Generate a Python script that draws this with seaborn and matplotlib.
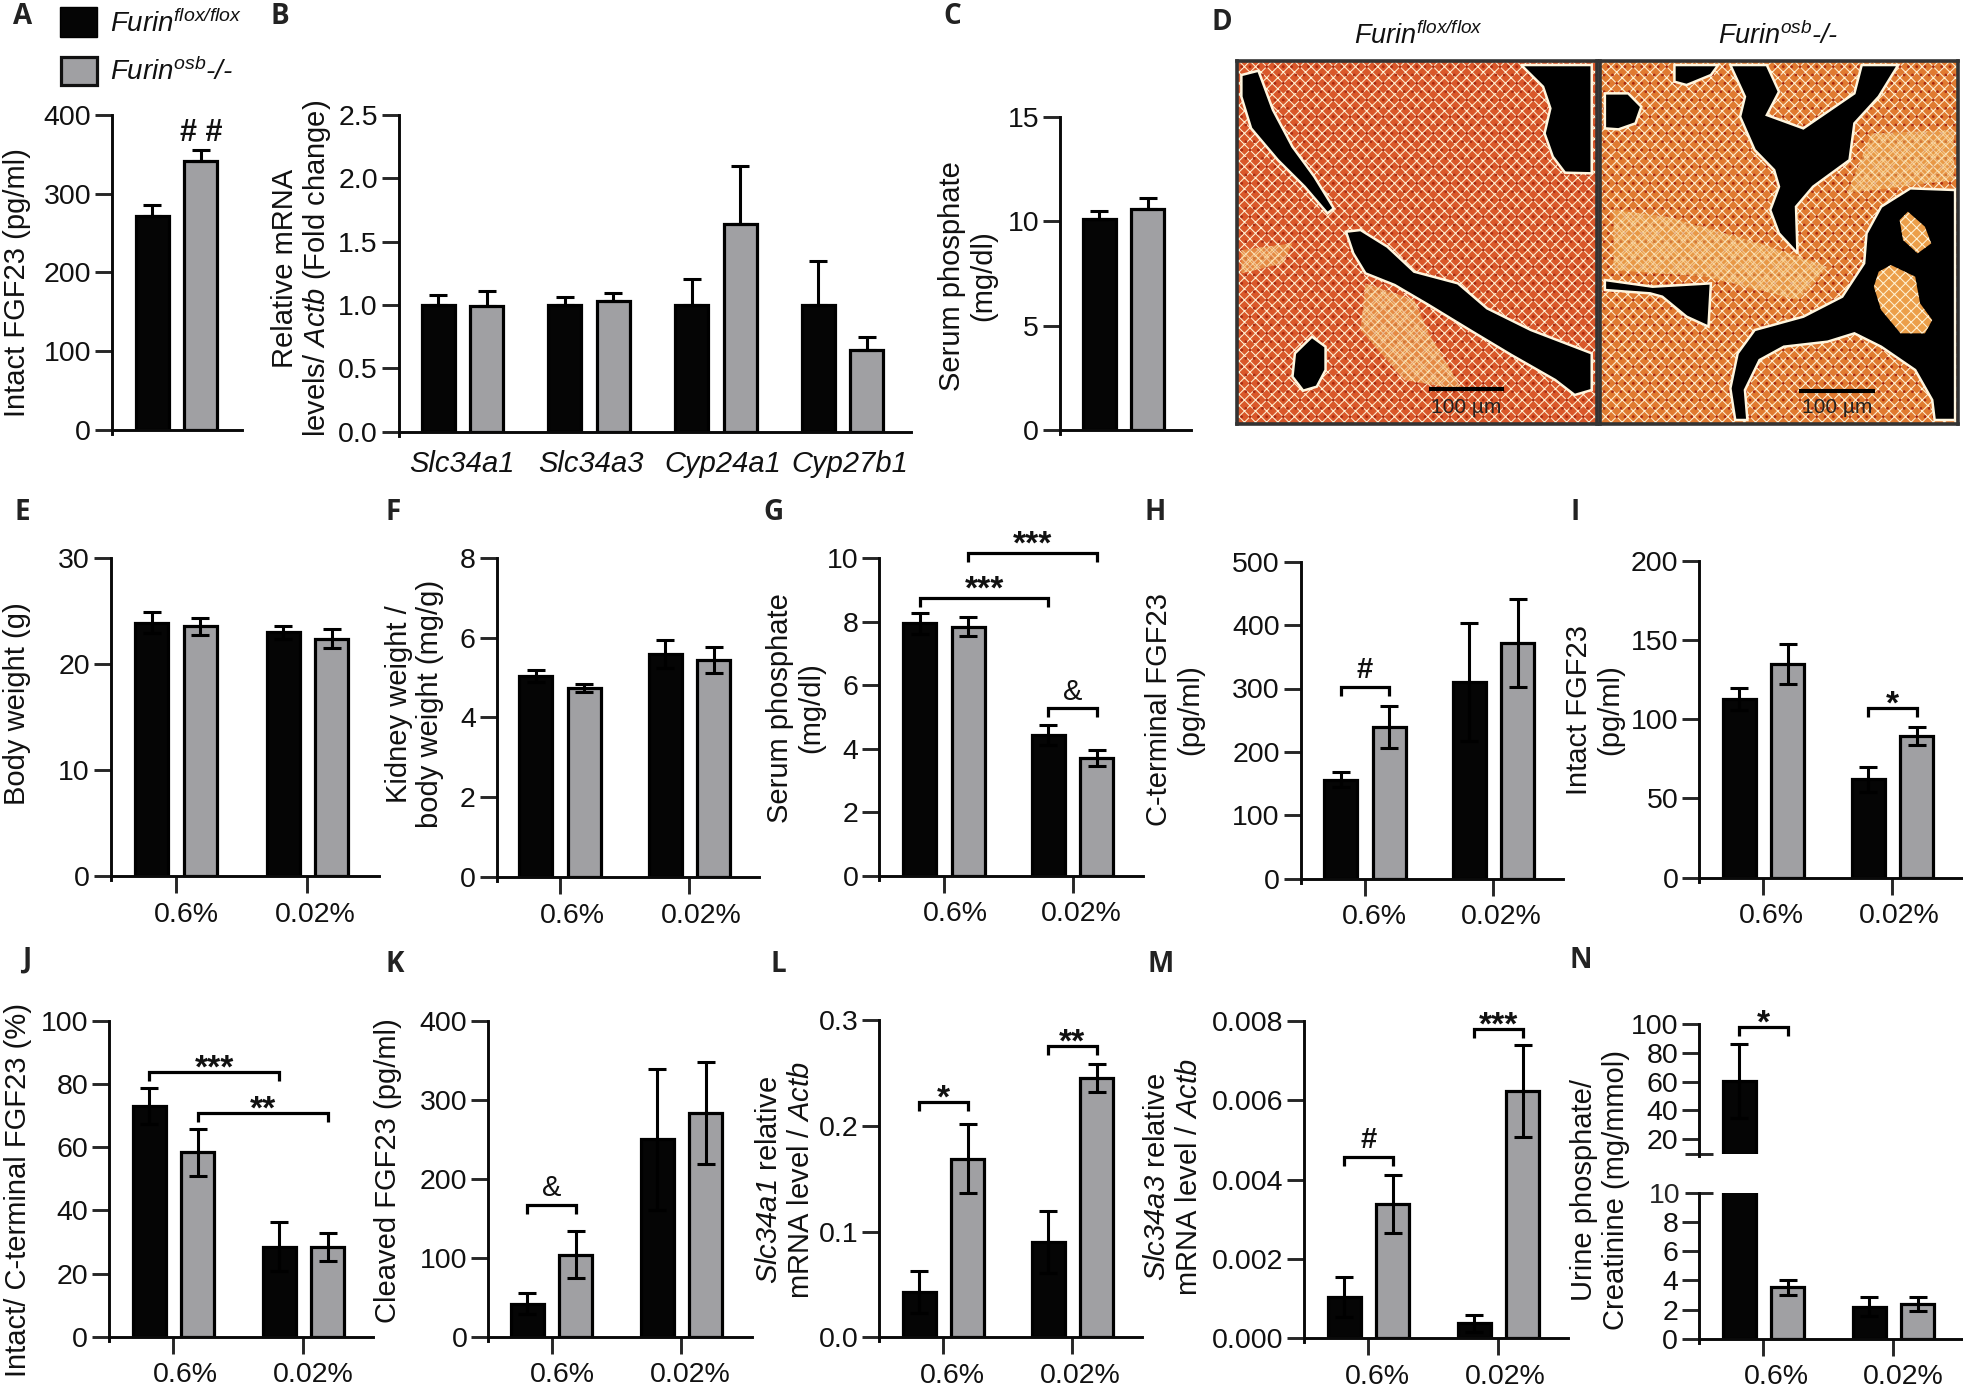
import pandas as pd
import matplotlib.pyplot as plt
import seaborn as sns
from matplotlib.patches import Polygon, Rectangle
from matplotlib.transforms import ScaledTranslation

diets = ["0.6%", "0.02%"]
genes = ["Slc34a1", "Slc34a3", "Cyp24a1", "Cyp27b1"]
single = ["all"]

# bar heights and top of the error bar
a_flox, a_flox_hi = [271], [286]
a_ko, a_ko_hi = [341], [355.5]
b_flox, b_flox_hi = [1.0, 1.0, 1.0, 1.0], [1.08, 1.066, 1.205, 1.345]
b_ko, b_ko_hi = [0.99, 1.034, 1.64, 0.645], [1.108, 1.095, 2.1, 0.75]
c_flox, c_flox_hi = [10.1], [10.5]
c_ko, c_ko_hi = [10.6], [11.1]
e_flox, e_flox_hi = [23.9, 23.0], [24.9, 23.6]
e_ko, e_ko_hi = [23.6, 22.4], [24.4, 23.3]
f_flox, f_flox_hi = [5.03, 5.58], [5.18, 5.93]
f_ko, f_ko_hi = [4.73, 5.44], [4.83, 5.77]
g_flox, g_flox_hi = [7.95, 4.43], [8.27, 4.75]
g_ko, g_ko_hi = [7.85, 3.71], [8.14, 3.96]
h_flox, h_flox_hi = [156, 310], [168, 403]
h_ko, h_ko_hi = [239, 372], [272, 441]
i_flox, i_flox_hi = [113, 62], [120, 70]
i_ko, i_ko_hi = [135, 89.5], [147.5, 95]
j_flox, j_flox_hi = [73, 28.5], [78.6, 36.2]
j_ko, j_ko_hi = [58.3, 28.4], [65.7, 32.7]
k_flox, k_flox_hi = [42, 250], [55, 339]
k_ko, k_ko_hi = [104, 283.5], [134, 348]
l_flox, l_flox_hi = [0.043, 0.09], [0.063, 0.119]
l_ko, l_ko_hi = [0.169, 0.245], [0.202, 0.258]
m_flox, m_flox_hi = [0.00104, 0.00038], [0.00154, 0.0006]
m_ko, m_ko_hi = [0.00338, 0.00624], [0.00411, 0.0074]
n_flox, n_flox_hi = [60.5, 2.19], [86, 2.83]
n_ko, n_ko_hi = [3.52, 2.37], [4.02, 2.83]

a_yticks = [0, 100, 200, 300, 400]
b_yticks = ["0.0", "0.5", "1.0", "1.5", "2.0", "2.5"]
c_yticks = [0, 5, 10, 15]
e_yticks = [0, 10, 20, 30]
f_yticks = [0, 2, 4, 6, 8]
g_yticks = [0, 2, 4, 6, 8, 10]
h_yticks = [0, 100, 200, 300, 400, 500]
i_yticks = [0, 50, 100, 150, 200]
j_yticks = [0, 20, 40, 60, 80, 100]
k_yticks = [0, 100, 200, 300, 400]
l_yticks = ["0.0", "0.1", "0.2", "0.3"]
m_yticks = ["0.000", "0.002", "0.004", "0.006", "0.008"]
n_low_yticks = [0, 2, 4, 6, 8]
n_high_yticks = [20, 40, 60, 80, 100]

# (group, hue, group, hue, height, text)
g_brackets = [(0, 0, 1, 0, 8.74, "***"), (0, 1, 1, 1, 10.16, "***"), (1, 0, 1, 1, 5.27, "&")]
h_brackets = [(0, 0, 0, 1, 303, "#")]
i_brackets = [(1, 0, 1, 1, 107, "*")]
j_brackets = [(0, 0, 1, 0, 83.7, "***"), (0, 1, 1, 1, 70.9, "**")]
k_brackets = [(0, 0, 0, 1, 167, "&")]
l_brackets = [(0, 0, 0, 1, 0.222, "*"), (1, 0, 1, 1, 0.275, "**")]
m_brackets = [(0, 0, 0, 1, 0.00458, "#"), (1, 0, 1, 1, 0.0078, "***")]
n_brackets = [(0, 0, 0, 1, 97.7, "*")]

d1_bone = [
    [(85, 225), (120, 212), (150, 330), (190, 440), (235, 530), (275, 625), (262, 640),
     (215, 560), (160, 480), (105, 385), (85, 290)],
    [(300, 695), (330, 690), (385, 740), (440, 815), (530, 850), (590, 925), (680, 990),
     (805, 1060), (805, 1170), (770, 1185), (730, 1140), (640, 1065), (560, 995),
     (470, 915), (400, 855), (340, 820), (315, 760)],
    [(660, 195), (805, 195), (805, 520), (750, 518), (725, 470), (708, 400), (720, 325), (705, 260)],
    [(230, 1010), (258, 1040), (258, 1110), (240, 1160), (212, 1172), (190, 1130), (195, 1060)],
]
d1_pale = [
    [(340, 850), (440, 900), (470, 1000), (540, 1170), (420, 1140), (330, 990)],
    [(85, 750), (190, 730), (170, 790), (85, 820)],
]
d2_bone = [
    [(975, 195), (1065, 195), (1050, 225), (1000, 255), (975, 245)],
    [(832, 280), (880, 280), (907, 320), (895, 370), (860, 388), (832, 385)],
    [(1090, 195), (1165, 195), (1190, 275), (1165, 345), (1240, 385), (1345, 280), (1360, 195),
     (1435, 195), (1395, 290), (1345, 370), (1335, 480), (1260, 560), (1225, 620), (1228, 760),
     (1190, 700), (1172, 630), (1190, 560), (1180, 510), (1140, 450), (1110, 350), (1120, 290)],
    [(832, 840), (930, 860), (1050, 850), (1045, 980), (1000, 950), (950, 890), (925, 880), (832, 870)],
    [(1552, 570), (1460, 565), (1400, 620), (1370, 700), (1365, 790), (1320, 890), (1240, 950),
     (1140, 990), (1105, 1060), (1090, 1165), (1100, 1260), (1125, 1260), (1120, 1170), (1150, 1080),
     (1200, 1040), (1290, 1025), (1345, 1000), (1400, 1040), (1470, 1110), (1505, 1200), (1510, 1260),
     (1552, 1260)],
]
d2_island = [
    [(1455, 635), (1490, 680), (1503, 730), (1475, 760), (1445, 720), (1438, 660)],
    [(1420, 795), (1470, 830), (1480, 910), (1505, 960), (1490, 1000), (1440, 1000), (1400, 930),
     (1385, 860), (1395, 815)],
]
d2_pale = [
    [(850, 630), (960, 650), (1150, 730), (1290, 800), (1230, 900), (1040, 830), (850, 810)],
    [(1380, 400), (1550, 390), (1550, 540), (1330, 580)],
]

sns.set_theme(style="ticks")
plt.rcParams["font.family"] = ["Liberation Sans", "DejaVu Sans"]
plt.rcParams["mathtext.fontset"] = "custom"
plt.rcParams["mathtext.rm"] = "Liberation Sans:italic"
plt.rcParams["mathtext.it"] = "Liberation Sans:italic"
plt.rcParams["mathtext.default"] = "rm"
plt.rcParams["hatch.linewidth"] = 0.75
plt.rcParams["text.color"] = "#111111"

W, H = 1963, 1392
fig = plt.figure(figsize=(W / 100, H / 100), dpi=100, facecolor="white")

FLOX = "#050505"
KO = "#a0a0a3"
TICK_SIZE = 20.5
LABEL_SIZE = 21
PITCH = 48.5
BAR_PX = 33


def px_axes(left, right, top, bottom):
    return fig.add_axes([left / W, 1 - bottom / H, (right - left) / W, (bottom - top) / H])


def draw_bars(ax, cats, flox, flox_hi, ko, ko_hi, spacing, lower=True):
    width = 2 * PITCH / spacing
    df = pd.DataFrame({"cat": cats * 2,
                       "geno": ["flox"] * len(cats) + ["ko"] * len(cats),
                       "value": flox + ko})
    sns.barplot(data=df, x="cat", y="value", hue="geno", order=cats, hue_order=["flox", "ko"],
                palette={"flox": FLOX, "ko": KO}, width=width, gap=1 - BAR_PX / PITCH,
                errorbar=None, saturation=1, edgecolor="black", linewidth=2.3,
                legend=False, ax=ax)
    for hue, (means, highs) in enumerate([(flox, flox_hi), (ko, ko_hi)]):
        xs = [i + (hue - 0.5) * width / 2 for i in range(len(cats))]
        up = [h - m for h, m in zip(highs, means)]
        down = up if lower else [0] * len(up)
        ax.errorbar(xs, means, yerr=[down, up], fmt="none", ecolor="black",
                    elinewidth=2.2, capsize=6.5, capthick=2.2, zorder=5)
    return width


def style_axes(ax, ymax, yticks):
    sns.despine(ax=ax)
    ax.set_xlabel("")
    ax.set_ylabel("")
    for side in ["left", "bottom"]:
        ax.spines[side].set_linewidth(2.1)
        ax.spines[side].set_color("#0a0a0a")
    ax.patch.set_alpha(0)
    ax.set_ylim(0, ymax)
    ax.set_yticks([float(t) for t in yticks], labels=[str(t) for t in yticks])
    ax.tick_params(axis="y", length=12, width=2.1, pad=3, labelsize=TICK_SIZE, labelcolor="#111111")
    h_px = ax.get_position().height * H
    ax.spines["left"].set_bounds(-4 * ymax / h_px, ymax)


def set_x(ax, left, right, ticks, spacing):
    ax.set_xlim((left - ticks[0]) / spacing, (right - ticks[0]) / spacing)


def xticks(ax, labels, label_px, ticks_px, length=12, pad=6.5, size=TICK_SIZE, style="normal"):
    ax.set_xticks(range(len(labels)), labels=labels)
    ax.tick_params(axis="x", length=length, width=2.1, pad=pad, labelsize=size, labelcolor="#111111")
    for lab, lx, tx in zip(ax.get_xticklabels(), label_px, ticks_px):
        lab.set_style(style)
        lab.set_transform(lab.get_transform() + ScaledTranslation((lx - tx) / 100, 0, fig.dpi_scale_trans))


def ylabel(text, x, y, linespacing=1.15):
    fig.text(x / W, 1 - y / H, text, rotation=90, ha="center", va="center", fontsize=LABEL_SIZE,
             linespacing=linespacing, multialignment="center")


def brackets(ax, items, width, ymax, lift=0):
    h_px = ax.get_position().height * H
    drop = 9 * ymax / h_px
    for g0, h0, g1, h1, y, text in items:
        x0 = g0 + (h0 - 0.5) * width / 2
        x1 = g1 + (h1 - 0.5) * width / 2
        ax.plot([x0, x0, x1, x1], [y - drop, y, y, y - drop], color="black", lw=2.3,
                clip_on=False, solid_joinstyle="miter", solid_capstyle="butt", zorder=6)
        star = text.startswith("*")
        ax.annotate(text, ((x0 + x1) / 2, y), xytext=(0, -4 + lift if star else 6), textcoords="offset points",
                    ha="center", va="baseline", fontsize=24 if star else 21,
                    fontweight="bold" if text == "#" or star else "normal", annotation_clip=False)


def group_panel(left, right, top, bottom, ticks, labs, ymax, yticks, flox, flox_hi, ko, ko_hi, items=(), lift=0):
    ax = px_axes(left, right, top, bottom)
    spacing = ticks[1] - ticks[0]
    width = draw_bars(ax, diets, flox, flox_hi, ko, ko_hi, spacing)
    style_axes(ax, ymax, yticks)
    set_x(ax, left, right, ticks, spacing)
    xticks(ax, diets, labs, ticks)
    brackets(ax, items, width, ymax, lift)
    return ax


# panel A
ax = px_axes(112, 242, 115, 429.5)
draw_bars(ax, single, a_flox, a_flox_hi, a_ko, a_ko_hi, 131, lower=False)
style_axes(ax, 400, a_yticks)
set_x(ax, 112, 242, [176.5], 131)
ax.set_xticks([])
ax.text(0 + 0.25 * 2 * PITCH / 131, 377, "# #", ha="center", va="center", fontsize=22, fontweight="bold")
ylabel("Intact FGF23 (pg/ml)", 17, 283)

# panel B
ax = px_axes(398.8, 911, 115, 431.7)
draw_bars(ax, genes, b_flox, b_flox_hi, b_ko, b_ko_hi, 126.8, lower=False)
style_axes(ax, 2.5, b_yticks)
set_x(ax, 398.8, 911, [462.3], 126.8)
xticks(ax, genes, [462, 591, 723, 850], [462.3, 589.1, 715.9, 842.7], length=0, pad=13, size=21, style="italic")
ylabel("Relative mRNA\nlevels/ $\\mathrm{Actb}$ (Fold change)", 302, 268, linespacing=1.05)

# panel C
ax = px_axes(1060, 1190.7, 117, 430)
draw_bars(ax, single, c_flox, c_flox_hi, c_ko, c_ko_hi, 131, lower=False)
style_axes(ax, 15, c_yticks)
set_x(ax, 1060, 1190.7, [1123.7], 131)
ax.set_xticks([])
ylabel("Serum phosphate\n(mg/dl)", 968, 276)

# panel D
for left, right, xlim, bone, pale, islands, bar, base in [
    (1236.5, 1596.6, (75, 815), d1_bone, d1_pale, [], (470, 625, 1168), "#d9582a"),
    (1600, 1958, (822, 1558), d2_bone, d2_pale, d2_island, (1232, 1388, 1172), "#e07a30"),
]:
    ax = px_axes(left, right, 60.7, 424)
    ax.set_xlim(*xlim)
    ax.set_ylim(1272, 182)
    ax.set_xticks([])
    ax.set_yticks([])
    for s in ax.spines.values():
        s.set_linewidth(2.6)
        s.set_color("#333333")
    ax.add_patch(Rectangle((xlim[0], 182), xlim[1] - xlim[0], 1090, facecolor=base,
                           edgecolor="#fff3d6", hatch="xxx", linewidth=0))
    ax.add_patch(Rectangle((xlim[0], 182), xlim[1] - xlim[0], 1090, facecolor="none",
                           edgecolor="#a82a12", hatch="..", linewidth=0))
    for outline in pale:
        ax.add_patch(Polygon(outline, closed=True, facecolor="#f0b45a", edgecolor="#fff6df",
                             hatch="xxxx", linewidth=0, alpha=0.55))
    for outline in bone:
        ax.add_patch(Polygon(outline, closed=True, facecolor="black", edgecolor="#fff6df", linewidth=1.8))
    for outline in islands:
        ax.add_patch(Polygon(outline, closed=True, facecolor="#ec9f4a", edgecolor="#fff3d6",
                             hatch="xxx", linewidth=0))
    ax.plot(bar[:2], [bar[2], bar[2]], color="black", lw=3, solid_capstyle="butt")
    ax.text(sum(bar[:2]) / 2, 1222, "100 µm", ha="center", va="center", fontsize=15, color="#222222")

fig.text(1419 / W, 1 - 36 / H, "Furin$^{\\mathrm{flox/flox}}$", style="italic", ha="center", va="center", fontsize=19.5)
fig.text(1778 / W, 1 - 36 / H, "Furin$^{\\mathrm{osb}}$-/-", style="italic", ha="center", va="center", fontsize=19.5)

# legend
fig.add_artist(Rectangle((60 / W, 1 - 37 / H), 37 / W, 30 / H, facecolor=FLOX, edgecolor="black",
                         transform=fig.transFigure))
fig.add_artist(Rectangle((61 / W, 1 - 85 / H), 36 / W, 28 / H, facecolor=KO, edgecolor="#111111", linewidth=2.3,
                         transform=fig.transFigure))
fig.text(110 / W, 1 - 32 / H, "Furin$^{\\mathrm{flox/flox}}$", style="italic", va="baseline", fontsize=20)
fig.text(110 / W, 1 - 80 / H, "Furin$^{\\mathrm{osb}}$-/-", style="italic", va="baseline", fontsize=20)

# row two
group_panel(110.7, 379, 558.3, 876, [176, 307.3], [186.7, 315], 30, e_yticks, e_flox, e_flox_hi, e_ko, e_ko_hi)
ylabel("Body weight (g)", 17, 704)
group_panel(496.7, 759.3, 557.7, 877, [560, 689.3], [572.7, 701], 8, f_yticks, f_flox, f_flox_hi, f_ko, f_ko_hi)
ylabel("Kidney weight /\nbody weight (mg/g)", 414.5, 704)
group_panel(879.3, 1142.7, 558.3, 875.7, [944, 1072.7], [955.7, 1081.7], 10, g_yticks,
            g_flox, g_flox_hi, g_ko, g_ko_hi, g_brackets, lift=4)
ylabel("Serum phosphate\n(mg/dl)", 796, 708)
group_panel(1300.7, 1562.7, 561.7, 878.7, [1365, 1493.3], [1374.3, 1501.7], 500, h_yticks,
            h_flox, h_flox_hi, h_ko, h_ko_hi, h_brackets)
ylabel("C-terminal FGF23\n(pg/ml)", 1175, 710)
group_panel(1699.3, 1962.7, 560.7, 877.7, [1763.3, 1892.3], [1771.7, 1899], 200, i_yticks,
            i_flox, i_flox_hi, i_ko, i_ko_hi, i_brackets)
ylabel("Intact FGF23\n(pg/ml)", 1595, 710)

# row three
group_panel(109, 373.3, 1020.7, 1336.7, [173.3, 303.3], [185.7, 313.3], 100, j_yticks,
            j_flox, j_flox_hi, j_ko, j_ko_hi, j_brackets)
ylabel("Intact/ C-terminal FGF23 (%)", 18, 1190)
group_panel(488.3, 752.3, 1020.7, 1336.7, [551.7, 681.3], [562.3, 690.7], 400, k_yticks,
            k_flox, k_flox_hi, k_ko, k_ko_hi, k_brackets)
ylabel("Cleaved FGF23 (pg/ml)", 388, 1171)
group_panel(879.3, 1141.7, 1020, 1337.3, [943.3, 1072.3], [952.3, 1080], 0.3, l_yticks,
            l_flox, l_flox_hi, l_ko, l_ko_hi, l_brackets)
ylabel("$\\mathrm{Slc34a1}$ relative\nmRNA level / $\\mathrm{Actb}$", 785, 1180)
group_panel(1304, 1568.3, 1021, 1338.3, [1368.3, 1498.3], [1377.3, 1505], 0.008, m_yticks,
            m_flox, m_flox_hi, m_ko, m_ko_hi, m_brackets)
ylabel("$\\mathrm{Slc34a3}$ relative\nmRNA level / $\\mathrm{Actb}$", 1173, 1177)

# panel N, broken axis
n_ticks = [1763.3, 1893.3]
n_spacing = n_ticks[1] - n_ticks[0]
low = px_axes(1699, 1962.7, 1192.7, 1338.7)
width = draw_bars(low, diets, n_flox, n_flox_hi, n_ko, n_ko_hi, n_spacing)
style_axes(low, 10, n_low_yticks)
set_x(low, 1699, 1962.7, n_ticks, n_spacing)
xticks(low, diets, [1776, 1903], n_ticks)
low.set_yticks([10], labels=["10"], minor=True)
low.tick_params(axis="y", which="minor", direction="inout", length=20, width=2.1, pad=3, labelsize=TICK_SIZE)

high = px_axes(1699, 1962.7, 1024, 1153.5)
draw_bars(high, diets, n_flox, n_flox_hi, n_ko, n_ko_hi, n_spacing)
style_axes(high, 100, n_high_yticks)
high.set_ylim(10, 100)
high.spines["left"].set_bounds(8, 100)
high.spines["bottom"].set_visible(False)
set_x(high, 1699, 1962.7, n_ticks, n_spacing)
high.set_xticks([])
high.set_yticks([10], labels=[""], minor=True)
high.tick_params(axis="y", which="minor", direction="inout", length=20, width=2.1)
brackets(high, n_brackets, width, 90)
ylabel("Urine phosphate/\nCreatinine (mg/mmol)", 1600, 1190)

# panel letters
panel_letters = {"A": (23, 17), "B": (280, 17), "C": (952, 17), "D": (1222, 22),
                 "E": (22, 513), "F": (393, 513), "G": (773, 513), "H": (1155, 513), "I": (1575, 513),
                 "J": (27, 960), "K": (395, 965), "L": (778, 965), "M": (1161, 965), "N": (1581, 960)}
for letter, (x, y) in panel_letters.items():
    fig.text(x / W, 1 - y / H, letter, fontfamily="Open Sans", fontweight="bold", fontsize=20,
             ha="center", va="center", color="#222222")

plt.savefig("out.png", dpi=100, facecolor="white")
